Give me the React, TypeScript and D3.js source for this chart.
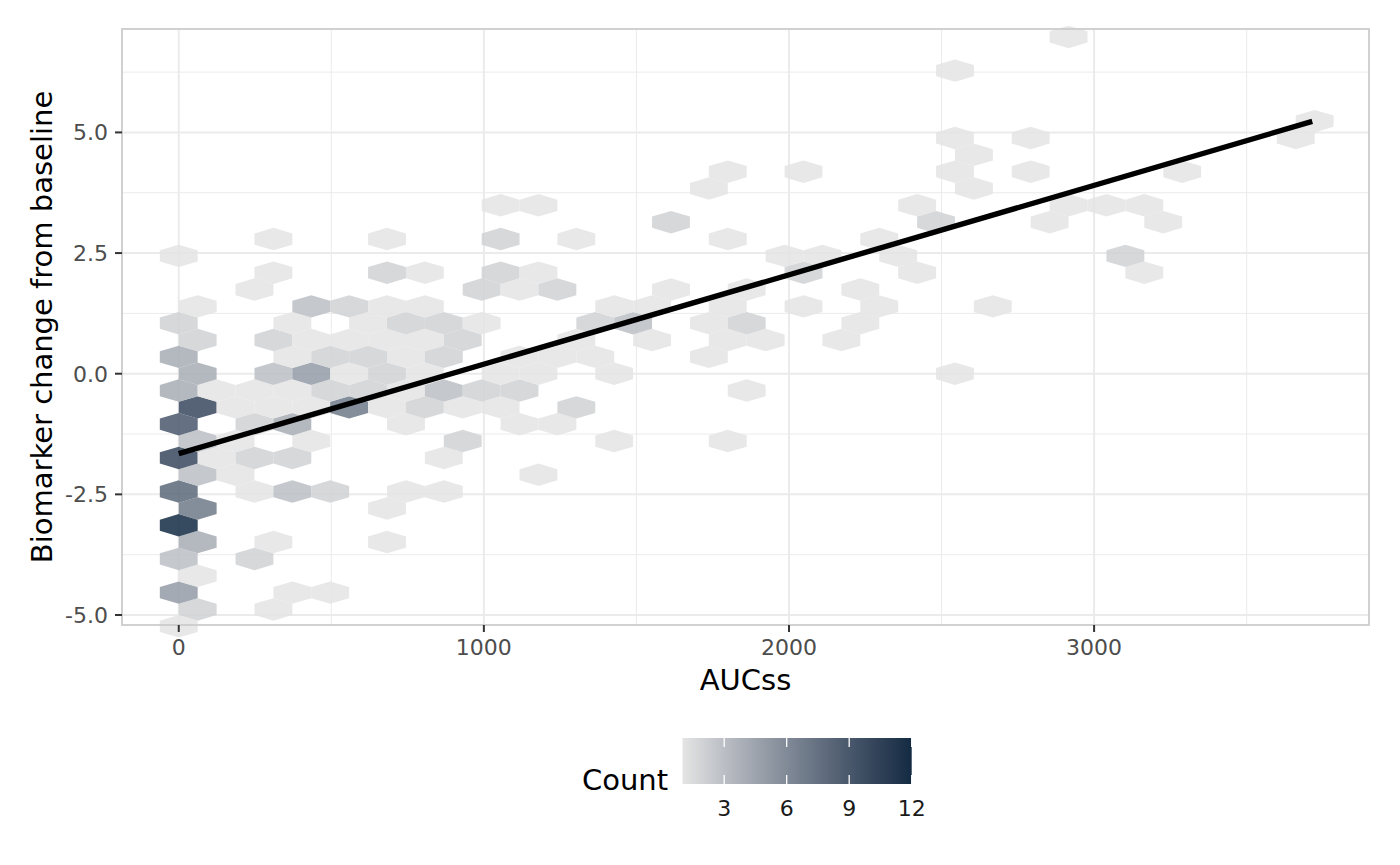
import React, { useEffect } from 'react';
import * as d3 from 'd3';

// axis ticks
const xTicks = [0, 1000, 2000, 3000];
const xMinorTicks = [500, 1500, 2500, 3500];
const yTicks = [-5, -2.5, 0, 2.5, 5];
const yMinorTicks = [-3.75, -1.25, 1.25, 3.75, 6.25];
const legendTicks = [3, 6, 9, 12];

// hexbin geometry (data units)
const BIN_W = 124.1; // AUCss width of one hex
const ROW_H = 0.3489; // biomarker step between hex rows
const Y_ORIGIN = -5.2335; // centre of the lowest hex row

// hex bins per row: [row, [[half-column, count], ...]]
const hexRows: [number, [number, number][]][] = [
  [0, [[0, 1]]],
  [1, [[1, 2], [5, 1]]],
  [2, [[0, 5], [6, 1], [8, 1]]],
  [3, [[1, 1]]],
  [4, [[0, 3], [4, 2]]],
  [5, [[1, 4], [5, 1], [11, 1]]],
  [6, [[0, 12]]],
  [7, [[1, 7], [11, 1]]],
  [8, [[0, 8], [4, 1], [6, 3], [8, 2], [12, 1], [14, 1]]],
  [9, [[1, 3], [3, 1], [19, 1]]],
  [10, [[0, 10], [2, 1], [4, 2], [6, 2], [14, 1]]],
  [11, [[1, 3], [3, 1], [7, 1], [15, 2], [23, 1], [29, 1]]],
  [12, [[0, 9], [4, 2], [6, 4], [12, 1], [18, 1], [20, 1]]],
  [13, [[1, 10], [3, 1], [5, 1], [7, 1], [9, 7], [11, 1], [13, 2], [15, 1], [17, 1], [21, 2]]],
  [14, [[0, 4], [2, 1], [4, 1], [6, 1], [8, 2], [10, 2], [12, 1], [14, 3], [16, 2], [18, 2], [30, 1]]],
  [15, [[1, 4], [5, 3], [7, 5], [9, 1], [11, 2], [13, 1], [17, 1], [19, 1], [23, 1], [41, 1]]],
  [16, [[0, 4], [6, 1], [8, 2], [10, 2], [12, 1], [14, 2], [18, 1], [20, 1], [22, 1], [28, 1]]],
  [17, [[1, 2], [5, 2], [7, 1], [9, 1], [11, 1], [13, 1], [15, 2], [21, 1], [25, 1], [29, 1], [31, 1], [35, 1]]],
  [18, [[0, 2], [6, 1], [10, 1], [12, 2], [14, 2], [16, 1], [22, 2], [24, 3], [28, 1], [30, 2], [36, 1]]],
  [19, [[1, 1], [7, 3], [9, 2], [11, 1], [13, 1], [23, 1], [25, 1], [29, 1], [33, 1], [37, 1], [43, 1]]],
  [20, [[4, 1], [16, 2], [18, 1], [20, 2], [26, 1], [30, 1], [36, 1]]],
  [21, [[5, 1], [11, 2], [13, 1], [17, 2], [19, 1], [33, 2], [39, 1], [51, 1]]],
  [22, [[0, 1], [32, 1], [34, 1], [38, 1], [50, 2]]],
  [23, [[5, 1], [11, 1], [17, 2], [21, 1], [29, 1], [37, 1]]],
  [24, [[26, 2], [40, 2], [46, 1], [52, 1]]],
  [25, [[17, 1], [19, 1], [39, 1], [47, 1], [49, 1], [51, 1]]],
  [26, [[28, 1], [42, 1]]],
  [27, [[29, 1], [33, 1], [41, 1], [45, 1], [53, 1]]],
  [28, [[42, 1]]],
  [29, [[41, 1], [45, 1], [59, 1]]],
  [30, [[60, 1]]],
  [33, [[41, 1]]],
  [35, [[47, 1]]],
];

// linear fit
const fitIntercept = -1.656;
const fitSlope = 0.001853;
const aucRange: [number, number] = [0, 3715];

const countRange: [number, number] = [1, 12];

const W = 1400;
const H = 865;
const panel = { left: 122, right: 1369, top: 29, bottom: 625 };
const FONT = '"DejaVu Sans", Verdana, sans-serif';

const App: React.FC = () => {
  useEffect(() => {
    document.body.style.margin = '0';
    document.body.style.overflow = 'hidden';
  }, []);

  const x = d3.scaleLinear().domain([-186, 3901]).range([panel.left, panel.right]);
  const y = d3.scaleLinear().domain([-5.207, 7.143]).range([panel.bottom, panel.top]);

  const color = d3
    .scaleLinear<string>()
    .domain(countRange)
    .range(['#e4e4e4', '#132b43'])
    .interpolate(d3.interpolateLab);

  const hexes = hexRows.flatMap(([row, cells]) =>
    cells.map(([half, count]) => ({
      auc: (half * BIN_W) / 2,
      change: Y_ORIGIN + row * ROW_H,
      count,
    }))
  );

  const hw = x(BIN_W / 2) - x(0);
  const r = ((y(0) - y(ROW_H)) * 2) / 3;
  const hexPath =
    `M0,${-r}L${hw},${-r / 2}L${hw},${r / 2}L0,${r}L${-hw},${r / 2}L${-hw},${-r / 2}Z`;

  const fitLine = d3
    .line<number>()
    .x((d) => x(d))
    .y((d) => y(fitIntercept + fitSlope * d));

  const legendX = d3.scaleLinear().domain(countRange).range([682.5, 911.7]);
  const legendTop = 738;
  const legendH = 46;
  const stops = d3.range(0, 1.0001, 0.05);

  return (
    <svg
      width={W}
      height={H}
      style={{ position: 'absolute', left: 0, top: 0, display: 'block', background: '#fff' }}
      fontFamily={FONT}
    >
      <defs>
        <linearGradient id="countGrad" x1="0" x2="1" y1="0" y2="0">
          {stops.map((t) => (
            <stop
              key={t}
              offset={t}
              stopColor={color(countRange[0] + t * (countRange[1] - countRange[0]))}
            />
          ))}
        </linearGradient>
      </defs>

      {/* grid */}
      <g stroke="#ebebeb" fill="none">
        {xMinorTicks.map((t) => (
          <line key={`xm${t}`} x1={x(t)} x2={x(t)} y1={panel.top} y2={panel.bottom} strokeWidth={1} />
        ))}
        {yMinorTicks.map((t) => (
          <line key={`ym${t}`} x1={panel.left} x2={panel.right} y1={y(t)} y2={y(t)} strokeWidth={1} />
        ))}
        {xTicks.map((t) => (
          <line key={`x${t}`} x1={x(t)} x2={x(t)} y1={panel.top} y2={panel.bottom} strokeWidth={2} />
        ))}
        {yTicks.map((t) => (
          <line key={`y${t}`} x1={panel.left} x2={panel.right} y1={y(t)} y2={y(t)} strokeWidth={2} />
        ))}
      </g>

      {/* hexes */}
      <g>
        {hexes.map((d, i) => (
          <path
            key={i}
            d={hexPath}
            transform={`translate(${x(d.auc)},${y(d.change)})`}
            fill={color(d.count)}
            fillOpacity={0.85}
          />
        ))}
      </g>

      {/* fit */}
      <path d={fitLine(aucRange) ?? ''} stroke="#000" strokeWidth={5.4} fill="none" />

      {/* border */}
      <rect
        x={panel.left}
        y={panel.top}
        width={panel.right - panel.left}
        height={panel.bottom - panel.top}
        fill="none"
        stroke="#cccccc"
        strokeWidth={1.8}
      />

      {/* x axis */}
      <g>
        {xTicks.map((t) => (
          <g key={t}>
            <line x1={x(t)} x2={x(t)} y1={panel.bottom} y2={panel.bottom + 7} stroke="#333" strokeWidth={2} />
            <text x={x(t)} y={655} textAnchor="middle" fontSize={22} fill="#4d4d4d">
              {t}
            </text>
          </g>
        ))}
        <text x={(panel.left + panel.right) / 2} y={690} textAnchor="middle" fontSize={29} fill="#000">
          AUCss
        </text>
      </g>

      {/* y axis */}
      <g>
        {yTicks.map((t) => (
          <g key={t}>
            <line x1={panel.left - 7} x2={panel.left} y1={y(t)} y2={y(t)} stroke="#333" strokeWidth={2} />
            <text x={108} y={y(t)} dy="0.36em" textAnchor="end" fontSize={22} fill="#4d4d4d">
              {t.toFixed(1)}
            </text>
          </g>
        ))}
        <text
          transform={`translate(52,${(panel.top + panel.bottom) / 2}) rotate(-90)`}
          textAnchor="middle"
          fontSize={29}
          fill="#000"
        >
          Biomarker change from baseline
        </text>
      </g>

      {/* legend */}
      <g>
        <text x={582} y={790} fontSize={29} fill="#000">
          Count
        </text>
        <rect
          x={legendX(countRange[0])}
          y={legendTop}
          width={legendX(countRange[1]) - legendX(countRange[0])}
          height={legendH}
          fill="url(#countGrad)"
        />
        {legendTicks.map((t) => (
          <g key={t}>
            <line x1={legendX(t)} x2={legendX(t)} y1={legendTop} y2={legendTop + 9} stroke="#fff" strokeWidth={1.3} />
            <line
              x1={legendX(t)}
              x2={legendX(t)}
              y1={legendTop + legendH - 9}
              y2={legendTop + legendH}
              stroke="#fff"
              strokeWidth={1.3}
            />
            <text x={legendX(t)} y={816} textAnchor="middle" fontSize={22} fill="#1a1a1a">
              {t}
            </text>
          </g>
        ))}
      </g>
    </svg>
  );
};

export default App;
